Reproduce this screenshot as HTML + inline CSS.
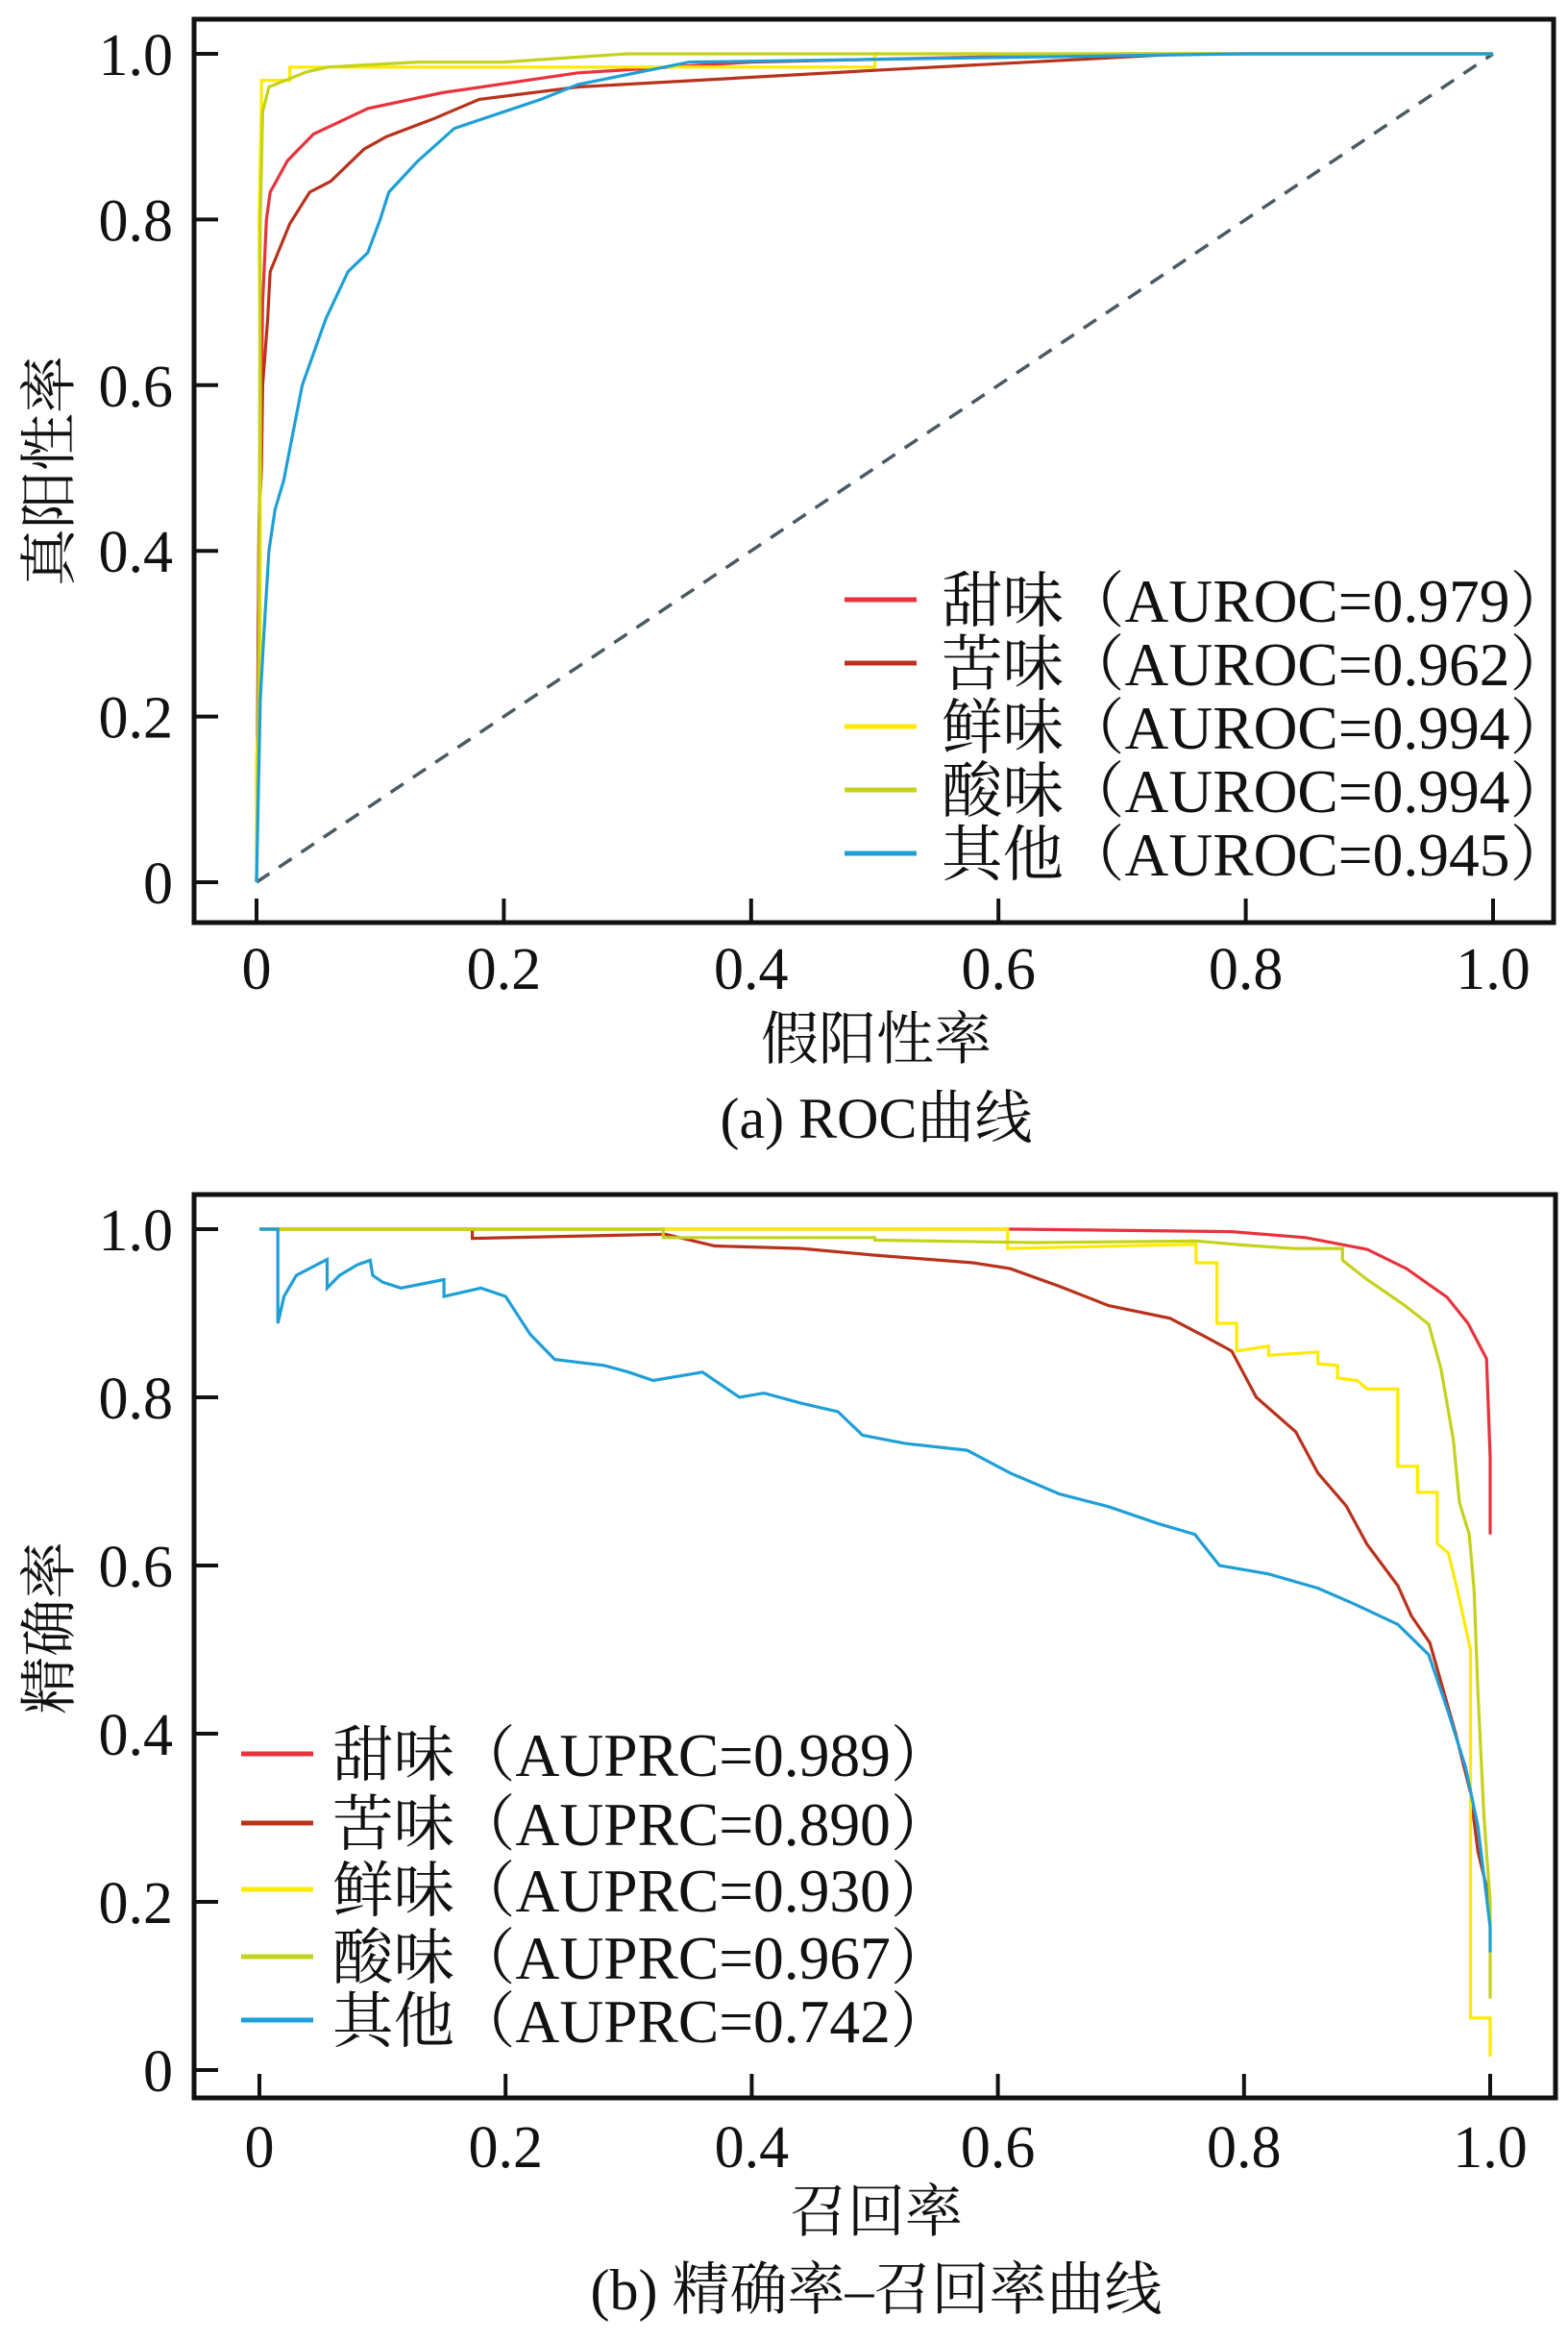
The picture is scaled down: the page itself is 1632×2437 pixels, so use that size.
<!DOCTYPE html>
<html><head><meta charset="utf-8">
<style>
html,body{margin:0;padding:0;background:#fff;}
svg{display:block;}
text{font-family:"Liberation Serif","Noto Serif CJK SC",serif;fill:#111;}
</style></head>
<body>
<svg id="fig" width="1632" height="2437" viewBox="0 0 1632 2437" xmlns="http://www.w3.org/2000/svg">
<g id="rocG"></g>
<g id="prG"></g>
</svg>
<script>
// ---------- data ----------
const seriesNames = ["甜味", "苦味", "鲜味", "酸味", "其他"];
const seriesColors = ["#e8323c", "#b8321c", "#ffea00", "#c4d21c", "#1e9fd6"];
const aurocValues = ["0.979", "0.962", "0.994", "0.994", "0.945"];
const auprcValues = ["0.989", "0.890", "0.930", "0.967", "0.742"];
const tickValues = [0, 0.2, 0.4, 0.6, 0.8, 1.0];
const tickLabels = ["0", "0.2", "0.4", "0.6", "0.8", "1.0"];

const rocSweet = [[0,0],[0.002,0.43],[0.004,0.6],[0.005,0.7],[0.008,0.8],[0.011,0.833],[0.025,0.871],[0.046,0.903],[0.09,0.934],[0.15,0.953],[0.26,0.977],[0.4,0.99],[0.7,1.0],[1,1]];
const rocBitter = [[0,0],[0.002,0.43],[0.004,0.5],[0.005,0.6],[0.009,0.68],[0.011,0.737],[0.027,0.795],[0.043,0.833],[0.06,0.846],[0.087,0.885],[0.105,0.9],[0.144,0.922],[0.18,0.945],[0.26,0.96],[0.5,0.98],[0.75,1.0],[1,1]];
const rocUmami = [[0,0],[0,0.15],[0.003,0.22],[0.003,0.6],[0.002,0.8],[0.004,0.94],[0.004,0.968],[0.027,0.968],[0.027,0.984],[0.5,0.984],[0.5,1.0],[1,1]];
const rocSour = [[0,0],[0.002,0.3],[0.003,0.8],[0.005,0.93],[0.01,0.96],[0.04,0.978],[0.058,0.984],[0.13,0.99],[0.2,0.99],[0.26,0.996],[0.3,1.0],[1,1]];
const rocOther = [[0,0],[0.003,0.22],[0.006,0.3],[0.01,0.4],[0.015,0.45],[0.022,0.485],[0.037,0.6],[0.056,0.68],[0.074,0.737],[0.09,0.76],[0.1,0.8],[0.107,0.833],[0.13,0.87],[0.16,0.91],[0.2,0.93],[0.23,0.945],[0.26,0.963],[0.35,0.99],[0.8,1.0],[1,1]];

const prSweet = [[0,1],[0.614,1.0],[0.79,0.997],[0.85,0.99],[0.9,0.976],[0.932,0.953],[0.965,0.919],[0.982,0.888],[0.997,0.846],[1.0,0.728],[1.0,0.637]];
const prBitter = [[0,1],[0.173,1.0],[0.173,0.989],[0.33,0.994],[0.37,0.98],[0.44,0.977],[0.5,0.969],[0.58,0.96],[0.61,0.953],[0.65,0.932],[0.69,0.909],[0.74,0.894],[0.77,0.871],[0.79,0.855],[0.81,0.8],[0.842,0.759],[0.86,0.71],[0.883,0.671],[0.9,0.625],[0.925,0.576],[0.936,0.54],[0.951,0.508],[0.972,0.4],[0.984,0.33],[0.99,0.26],[1.0,0.2]];
const prUmami = [[0,1],[0.608,1.0],[0.608,0.977],[0.761,0.982],[0.761,0.96],[0.778,0.96],[0.778,0.888],[0.794,0.888],[0.794,0.855],[0.82,0.861],[0.82,0.85],[0.86,0.854],[0.86,0.84],[0.876,0.838],[0.876,0.823],[0.892,0.82],[0.9,0.81],[0.925,0.81],[0.925,0.718],[0.941,0.718],[0.941,0.687],[0.957,0.687],[0.957,0.626],[0.966,0.615],[0.973,0.573],[0.984,0.5],[0.984,0.062],[1.0,0.062],[1.0,0.016]];
const prSour = [[0,1],[0.328,1.0],[0.328,0.99],[0.5,0.99],[0.5,0.987],[0.63,0.984],[0.761,0.986],[0.8,0.981],[0.84,0.977],[0.88,0.977],[0.88,0.963],[0.9,0.94],[0.93,0.91],[0.95,0.887],[0.96,0.834],[0.97,0.75],[0.975,0.675],[0.983,0.637],[0.987,0.57],[0.99,0.45],[0.995,0.3],[1.0,0.2],[1.0,0.085]];
const prOther = [[0,1],[0.015,1.0],[0.015,0.888],[0.02,0.92],[0.03,0.945],[0.055,0.964],[0.055,0.93],[0.065,0.945],[0.08,0.958],[0.09,0.963],[0.092,0.945],[0.1,0.937],[0.115,0.93],[0.15,0.94],[0.15,0.92],[0.18,0.93],[0.2,0.92],[0.22,0.875],[0.24,0.845],[0.28,0.838],[0.3,0.83],[0.32,0.82],[0.36,0.83],[0.39,0.8],[0.41,0.805],[0.44,0.793],[0.47,0.783],[0.49,0.755],[0.525,0.745],[0.575,0.737],[0.61,0.71],[0.65,0.685],[0.69,0.67],[0.73,0.65],[0.76,0.637],[0.78,0.6],[0.82,0.59],[0.86,0.573],[0.89,0.554],[0.925,0.53],[0.95,0.494],[0.965,0.43],[0.98,0.36],[0.99,0.29],[1.0,0.17],[1.0,0.14]];

const rocSeries = [rocSweet, rocBitter, rocUmami, rocSour, rocOther];
const prSeries = [prSweet, prBitter, prUmami, prSour, prOther];

// ---------- drawing ----------
const NS = "http://www.w3.org/2000/svg";
function mk(tag, attrs, parent) {
  const e = document.createElementNS(NS, tag);
  for (const k in attrs) e.setAttribute(k, attrs[k]);
  parent.appendChild(e);
  return e;
}

function drawChart(g, cfg) {
  const sx = v => cfg.x0 + v * (cfg.x1 - cfg.x0);
  const sy = v => cfg.y0 - v * (cfg.y0 - cfg.y1);
  if (cfg.diag) {
    const d = mk("line", {x1: sx(0), y1: sy(0), x2: sx(1), y2: sy(1), stroke: "#4a5a62", "stroke-width": 3.5, "stroke-dasharray": "16,12"}, g);
    
    
  }
  cfg.series.forEach((pts, i) => {
    const p = mk("polyline", {points: pts.map(q => sx(q[0]).toFixed(1) + "," + sy(q[1]).toFixed(1)).join(" "), fill: "none", stroke: seriesColors[i], "stroke-width": 3.2, "stroke-linejoin": "miter"}, g);
    
    
  });
  const fr = mk("rect", {x: cfg.fx0, y: cfg.fy0, width: cfg.fx1 - cfg.fx0, height: cfg.fy1 - cfg.fy0, fill: "none", stroke: "#111", "stroke-width": 5}, g);
  
  
  tickValues.forEach((v, i) => {
    const tx = mk("line", {x1: sx(v), x2: sx(v), y1: cfg.fy1, y2: cfg.fy1 - 25, stroke: "#111", "stroke-width": 4}, g);
    
    
    const lx = mk("text", {x: sx(v), y: cfg.xlabY, "font-size": 62, "text-anchor": "middle"}, g);
    lx.textContent = tickLabels[i];
    
    
    const ty = mk("line", {x1: cfg.fx0, x2: cfg.fx0 + 25, y1: sy(v), y2: sy(v), stroke: "#111", "stroke-width": 4}, g);
    
    
    const ly = mk("text", {x: 180, y: sy(v) + 22, "font-size": 62, "text-anchor": "end"}, g);
    ly.textContent = tickLabels[i];
    
    
  });
  cfg.legendRows.forEach((cy, i) => {
    const ll = mk("line", {x1: cfg.legX0, x2: cfg.legX1, y1: cy, y2: cy, stroke: seriesColors[i], "stroke-width": 5}, g);
    
    
    const lt = mk("text", {x: cfg.legTX, y: cy + 23, "font-size": 63.5}, g);
    lt.textContent = seriesNames[i] + "（" + cfg.metric + "=" + cfg.values[i] + "）";
    
    
  });
  const xt = mk("text", {x: 912, y: cfg.xtY, "font-size": 60, "text-anchor": "middle"}, g);
  xt.textContent = cfg.xTitle;
  
  
  const yt = mk("text", {x: 0, y: 0, "font-size": 60, "text-anchor": "middle", transform: "translate(72," + cfg.ytY + ") rotate(-90)"}, g);
  yt.textContent = cfg.yTitle;
  
  
  const cp = mk("text", {x: 912, y: cfg.capY, "font-size": 60, "text-anchor": "middle"}, g);
  cp.textContent = cfg.caption;
  
  
}

drawChart(document.getElementById("rocG"), {
  prefix: "roc", x0: 267, x1: 1554, y0: 918, y1: 56,
  fx0: 202, fx1: 1617, fy0: 20, fy1: 960, xlabY: 1029,
  series: rocSeries, diag: true,
  legendRows: [624, 690, 756, 822, 888], legX0: 879, legX1: 954, legTX: 980,
  metric: "AUROC", values: aurocValues,
  xTitle: "假阳性率", xtY: 1102, yTitle: "真阳性率", ytY: 490,
  caption: "(a) ROC曲线", capY: 1184
});
drawChart(document.getElementById("prG"), {
  prefix: "pr", x0: 270, x1: 1551, y0: 2154, y1: 1279,
  fx0: 202, fx1: 1619, fy0: 1243, fy1: 2183, xlabY: 2255,
  series: prSeries, diag: false,
  legendRows: [1825, 1897, 1966, 2036, 2102], legX0: 251, legX1: 326, legTX: 346,
  metric: "AUPRC", values: auprcValues,
  xTitle: "召回率", xtY: 2322, yTitle: "精确率", ytY: 1694,
  caption: "(b) 精确率–召回率曲线", capY: 2403
});
</script>
</body></html>
